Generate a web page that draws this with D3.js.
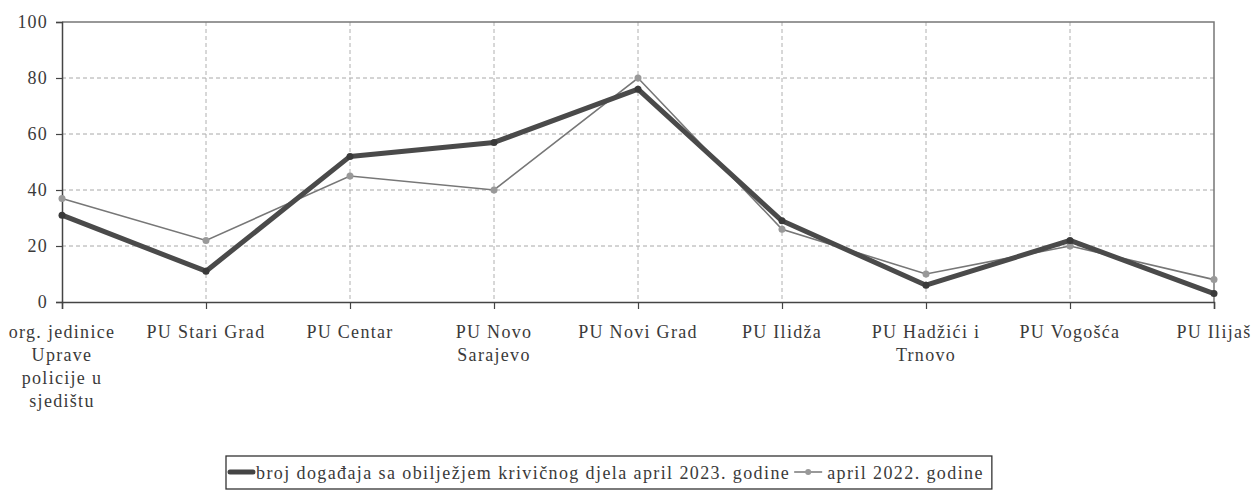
<!DOCTYPE html>
<html>
<head>
<meta charset="utf-8">
<script src="https://cdn.jsdelivr.net/npm/d3@7"></script>
<style>
  body { margin: 0; background: #fff; }
  text { font-family: "Liberation Serif", "DejaVu Serif", serif; fill: #3a3a3a; }
</style>
</head>
<body>
<div id="vis"></div>
<script>
// data
const categories = [
  "org. jedinice\nUprave\npolicije u\nsjedištu",
  "PU Stari Grad",
  "PU Centar",
  "PU Novo\nSarajevo",
  "PU Novi Grad",
  "PU Ilidža",
  "PU Hadžići i\nTrnovo",
  "PU Vogošća",
  "PU Ilijaš"
]
const values2023 = [31, 11, 52, 57, 76, 29, 6, 22, 3]
const values2022 = [37, 22, 45, 40, 80, 26, 10, 20, 8]
const yTicks = [0, 20, 40, 60, 80, 100]
const seriesNames = ["broj događaja sa obilježjem krivičnog djela april 2023. godine", "april 2022. godine"]

const W = 1254, H = 497
const margin = {left: 62, right: 40, top: 22, bottom: 195}

let svg = d3.select('#vis')
  .append('svg')
  .attr('width', W)
  .attr('height', H)

let x = d3.scalePoint()
  .domain(categories)
  .range([margin.left, W - margin.right])
  .padding(0)

let y = d3.scaleLinear()
  .domain([0, 100])
  .range([H - margin.bottom, margin.top])

// horizontal grid
svg.append('g')
  .selectAll('line')
  .data(yTicks.filter(d => d > 0 && d < 100))
  .enter()
  .append('line')
    .attr('x1', margin.left)
    .attr('x2', W - margin.right)
    .attr('y1', d => y(d))
    .attr('y2', d => y(d))
    .attr('stroke', '#a8a8a8')
    .attr('stroke-dasharray', '4,3')

// vertical grid
svg.append('g')
  .selectAll('line')
  .data(categories.slice(1, -1))
  .enter()
  .append('line')
    .attr('x1', d => x(d))
    .attr('x2', d => x(d))
    .attr('y1', y(100))
    .attr('y2', y(0))
    .attr('stroke', '#b0b0b0')
    .attr('stroke-dasharray', '4,3')

// plot frame top + right
svg.append('path')
  .attr('d', `M${margin.left},${y(100)}H${W - margin.right}V${y(0)}`)
  .attr('fill', 'none')
  .attr('stroke', '#777')
  .attr('stroke-width', 1.5)

// y axis
let yAxis = d3.axisLeft(y)
  .tickValues(yTicks)
  .tickSize(6)
  .tickPadding(8)

svg.append('g')
  .attr('transform', `translate(${margin.left},0)`)
  .call(yAxis)
  .call(g => g.select('.domain').attr('stroke', '#444').attr('stroke-width', 1.5))
  .call(g => g.selectAll('.tick line').attr('stroke', '#444').attr('stroke-width', 1.2))
  .call(g => g.selectAll('.tick text')
    .attr('font-size', '18px')
    .attr('letter-spacing', '1.2px')
    .attr('fill', '#3a3a3a'))

// x axis
let xAxis = d3.axisBottom(x)
  .tickSize(7)
  .tickFormat('')

svg.append('g')
  .attr('transform', `translate(0,${y(0)})`)
  .call(xAxis)
  .call(g => g.select('.domain').attr('stroke', '#444').attr('stroke-width', 1.5))
  .call(g => g.selectAll('.tick line').attr('stroke', '#444').attr('stroke-width', 1.2))

// wrapped category labels
let labels = svg.append('g')
  .selectAll('text')
  .data(categories)
  .enter()
  .append('text')
    .attr('x', d => x(d))
    .attr('y', y(0) + 36)
    .attr('text-anchor', 'middle')
    .attr('font-size', '18px')
    .attr('letter-spacing', '1.3px')

labels.selectAll('tspan')
  .data(d => d.split('\n').map(t => ({t, cx: x(d)})))
  .enter()
  .append('tspan')
    .attr('x', d => d.cx)
    .attr('dy', (d, i) => i === 0 ? 0 : 23)
    .text(d => d.t)

let line = d3.line()
  .x((d, i) => x(categories[i]))
  .y(d => y(d))

// 2022 thin series
svg.append('path')
  .datum(values2022)
  .attr('d', line)
  .attr('fill', 'none')
  .attr('stroke', '#777')
  .attr('stroke-width', 1.6)

svg.append('g')
  .selectAll('circle')
  .data(values2022)
  .enter()
  .append('circle')
    .attr('cx', (d, i) => x(categories[i]))
    .attr('cy', d => y(d))
    .attr('r', 3.5)
    .attr('fill', '#999')

// 2023 thick series
svg.append('path')
  .datum(values2023)
  .attr('d', line)
  .attr('fill', 'none')
  .attr('stroke', '#4a4a4a')
  .attr('stroke-width', 5)
  .attr('stroke-linejoin', 'round')

svg.append('g')
  .selectAll('circle')
  .data(values2023)
  .enter()
  .append('circle')
    .attr('cx', (d, i) => x(categories[i]))
    .attr('cy', d => y(d))
    .attr('r', 3.5)
    .attr('fill', '#3a3a3a')

// legend, laid out from measured text widths
let legend = svg.append('g')
  .attr('transform', 'translate(226,456)')

let box = legend.append('rect')
  .attr('height', 33)
  .attr('fill', 'none')
  .attr('stroke', '#333')
  .attr('stroke-width', 1.3)

legend.append('line')
  .attr('x1', 4).attr('x2', 27)
  .attr('y1', 16).attr('y2', 16)
  .attr('stroke', '#444')
  .attr('stroke-width', 5)
  .attr('stroke-linecap', 'round')

let t1 = legend.append('text')
  .attr('x', 30)
  .attr('y', 23)
  .attr('font-size', '18px')
  .attr('letter-spacing', '1.4px')
  .text(seriesNames[0])

let x2 = 30 + t1.node().getComputedTextLength() + 4

legend.append('line')
  .attr('x1', x2).attr('x2', x2 + 28)
  .attr('y1', 16).attr('y2', 16)
  .attr('stroke', '#777')
  .attr('stroke-width', 1.5)

legend.append('circle')
  .attr('cx', x2 + 14).attr('cy', 16)
  .attr('r', 3)
  .attr('fill', '#999')

let t2 = legend.append('text')
  .attr('x', x2 + 33)
  .attr('y', 23)
  .attr('font-size', '18px')
  .attr('letter-spacing', '1.4px')
  .text(seriesNames[1])

box.attr('width', x2 + 33 + t2.node().getComputedTextLength() + 8)
</script>
</body>
</html>
